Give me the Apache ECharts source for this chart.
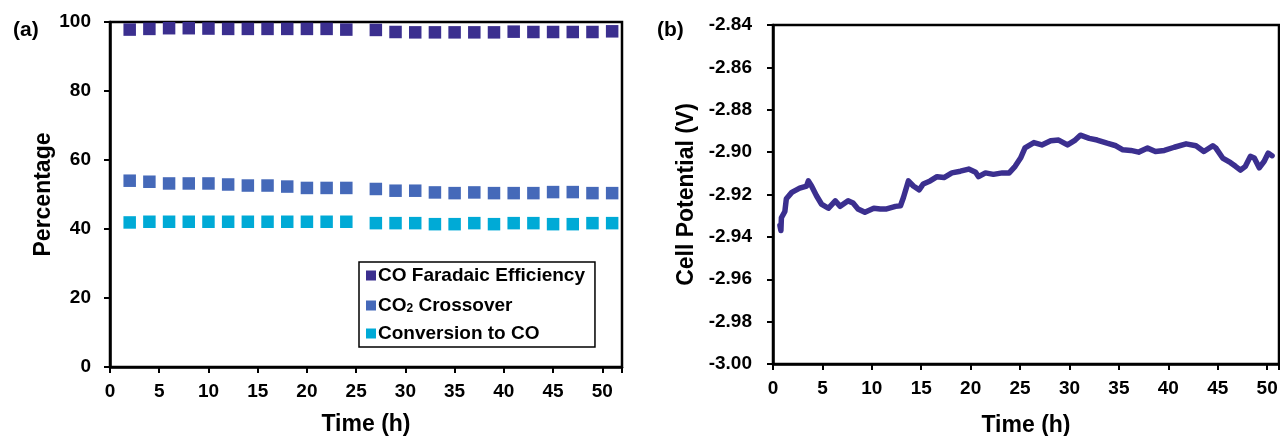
<!DOCTYPE html>
<html>
<head>
<meta charset="utf-8">
<script src="https://cdn.jsdelivr.net/npm/echarts@6/dist/echarts.min.js"></script>
<style>html,body{margin:0;padding:0;background:#fff}#c{width:1280px;height:436px}</style>
</head>
<body>
<div id="c"></div>
<script>
// Panel (a)
var timeA = [2,4,6,8,10,12,14,16,18,20,22,24,27,29,31,33,35,37,39,41,43,45,47,49,51];
var faradaic = [97.8,98.0,98.2,98.2,98.1,98.0,98.0,98.0,98.0,98.0,98.0,97.8,97.7,97.1,97.0,97.0,97.0,97.0,97.0,97.2,97.1,97.1,97.1,97.1,97.3];
var crossover = [54.0,53.7,53.2,53.2,53.2,52.9,52.6,52.6,52.3,51.9,51.9,51.9,51.6,51.1,51.1,50.6,50.4,50.6,50.4,50.4,50.4,50.7,50.7,50.4,50.4];
var conversion = [41.9,42.1,42.1,42.1,42.1,42.1,42.1,42.1,42.1,42.1,42.1,42.1,41.7,41.7,41.7,41.4,41.4,41.7,41.4,41.7,41.7,41.4,41.4,41.7,41.7];
var ticksA = [0,5,10,15,20,25,30,35,40,45,50];
// Panel (b)
var timeB = [0.7,0.8,0.85,1.2,1.35,1.9,2.7,3.4,3.58,3.9,4.4,4.9,5.6,6.3,6.8,7.6,8.1,8.6,9.3,10.2,10.85,11.5,12.4,12.9,13.2,13.7,14.2,14.8,15.2,15.9,16.6,17.3,18.1,18.96,19.8,20.5,20.8,21.5,22.3,23.2,23.9,24.5,25.05,25.5,26.4,27.2,28.1,28.9,29.8,30.5,31.1,32.0,32.8,33.8,34.7,35.4,36.2,37.0,37.9,38.7,39.6,40.6,41.8,42.8,43.6,44.5,44.8,45.5,46.3,46.8,47.3,47.8,48.3,48.7,49.2,49.7,50.1,50.5];
var potential = [-2.9346,-2.937,-2.931,-2.928,-2.922,-2.919,-2.917,-2.916,-2.9136,-2.916,-2.9206,-2.9245,-2.9265,-2.923,-2.9256,-2.923,-2.924,-2.9268,-2.9284,-2.9265,-2.9268,-2.9268,-2.9256,-2.9253,-2.9214,-2.9136,-2.916,-2.9178,-2.915,-2.9136,-2.9116,-2.912,-2.9098,-2.909,-2.908,-2.9095,-2.9116,-2.9098,-2.9105,-2.9098,-2.9098,-2.9067,-2.9028,-2.898,-2.8955,-2.8966,-2.8946,-2.8943,-2.8966,-2.8946,-2.892,-2.8935,-2.8943,-2.8958,-2.897,-2.8989,-2.8992,-2.900,-2.8981,-2.8997,-2.8992,-2.8977,-2.8961,-2.897,-2.8997,-2.897,-2.898,-2.9028,-2.905,-2.9067,-2.9085,-2.9067,-2.902,-2.9028,-2.9074,-2.9043,-2.9005,-2.9017];
var ticksB = [-3.00,-2.98,-2.96,-2.94,-2.92,-2.90,-2.88,-2.86,-2.84];

var FONT = '"Liberation Sans", Arial, sans-serif';
var C_FE = '#3b2f8f', C_CR = '#4569b9', C_CV = '#00aad6';

function pairs(x, y){ return x.map(function(v,i){ return [v, y[i]]; }); }

var axisCommon = {
  axisLine: {show: true, onZero: false, lineStyle: {color: '#000', width: 2.5}},
  axisTick: {show: true, inside: false, length: 6, lineStyle: {color: '#000', width: 2}},
  splitLine: {show: false},
  nameTextStyle: {fontFamily: FONT, fontWeight: 'bold', fontSize: 23, color: '#000'}
};
function merge(a,b){ var o={}; for (var k in a) o[k]=a[k]; for (var k2 in b) o[k2]=b[k2]; return o; }
var tickLabel = {fontFamily: FONT, fontWeight: 'bold', fontSize: 19, color: '#000'};

var chart = echarts.init(document.getElementById('c'), null, {renderer: 'canvas'});
chart.setOption({
  animation: false,
  backgroundColor: '#fff',
  textStyle: {fontFamily: FONT},
  title: [
    {text: '(a)', left: 8, top: 15, textStyle: {fontFamily: FONT, fontWeight: 'bold', fontSize: 21, color: '#000'}},
    {text: '(b)', left: 652, top: 15, textStyle: {fontFamily: FONT, fontWeight: 'bold', fontSize: 21, color: '#000'}}
  ],
  grid: [
    {left: 110, top: 22, width: 512, height: 345, show: true, borderColor: '#000', borderWidth: 2.5, backgroundColor: 'transparent', containLabel: false, outerBoundsMode: 'none'},
    {left: 773, top: 25, width: 506, height: 339, show: true, borderColor: '#000', borderWidth: 2.5, backgroundColor: 'transparent', containLabel: false, outerBoundsMode: 'none'}
  ],
  xAxis: [
    merge(axisCommon, {type: 'value', gridIndex: 0, min: 0, max: 52, interval: 5,
      name: 'Time (h)', nameLocation: 'middle', nameGap: 46,
      axisLabel: merge(tickLabel, {margin: 15,
        formatter: function(v){ return ticksA.indexOf(v) >= 0 ? String(v) : ''; }})}),
    merge(axisCommon, {type: 'value', gridIndex: 1, min: 0, max: 51.2, interval: 5,
      name: 'Time (h)', nameLocation: 'middle', nameGap: 50,
      axisLabel: merge(tickLabel, {margin: 15,
        formatter: function(v){ return ticksA.indexOf(v) >= 0 ? String(v) : ''; }})})
  ],
  yAxis: [
    merge(axisCommon, {type: 'value', gridIndex: 0, min: 0, max: 100, interval: 20,
      name: 'Percentage', nameLocation: 'middle', nameGap: 51,
      axisLabel: merge(tickLabel, {margin: 19})}),
    merge(axisCommon, {type: 'value', gridIndex: 1, min: -3.00, max: -2.84, interval: 0.02,
      name: 'Cell Potential (V)', nameLocation: 'middle', nameGap: 75,
      axisLabel: merge(tickLabel, {margin: 21,
        formatter: function(v){ return v.toFixed(2); }})})
  ],
  legend: {
    orient: 'vertical', left: 359, top: 262,
    padding: [4, 10, 4, 7], itemGap: 9,
    borderColor: '#000', borderWidth: 1.5, backgroundColor: '#fff',
    itemWidth: 10, itemHeight: 10, icon: 'rect',
    data: ['CO Faradaic Efficiency', 'CO2 Crossover', 'Conversion to CO'],
    formatter: function(name){
      if (name === 'CO2 Crossover') return '{b|CO}{s|2}{b| Crossover}';
      return '{b|' + name + '}';
    },
    textStyle: {
      fontFamily: FONT, fontWeight: 'bold', fontSize: 19, color: '#000', padding: [0,0,0,-3], lineHeight: 19,
      rich: {
        b: {fontFamily: FONT, fontWeight: 'bold', fontSize: 19, color: '#000', lineHeight: 19},
        s: {fontFamily: FONT, fontWeight: 'bold', fontSize: 12, color: '#000', lineHeight: 19, verticalAlign: 'bottom', padding: [9,0,0,0]}
      }
    }
  },
  series: [
    {name: 'CO Faradaic Efficiency', type: 'scatter', xAxisIndex: 0, yAxisIndex: 0, symbol: 'rect', symbolSize: 12.5,
      itemStyle: {color: C_FE, opacity: 1}, data: pairs(timeA, faradaic)},
    {name: 'CO2 Crossover', type: 'scatter', xAxisIndex: 0, yAxisIndex: 0, symbol: 'rect', symbolSize: 12.5,
      itemStyle: {color: C_CR, opacity: 1}, data: pairs(timeA, crossover)},
    {name: 'Conversion to CO', type: 'scatter', xAxisIndex: 0, yAxisIndex: 0, symbol: 'rect', symbolSize: 12.5,
      itemStyle: {color: C_CV, opacity: 1}, data: pairs(timeA, conversion)},
    {name: 'Cell Potential', type: 'line', xAxisIndex: 1, yAxisIndex: 1, showSymbol: false, symbol: 'none',
      lineStyle: {color: C_FE, width: 5.5, join: 'round', cap: 'round'}, data: pairs(timeB, potential)}
  ]
});
</script>
</body>
</html>
